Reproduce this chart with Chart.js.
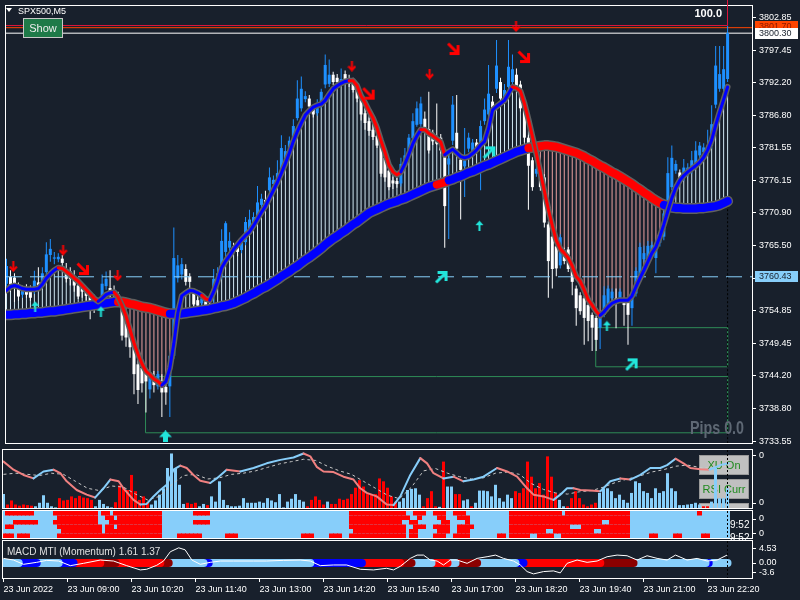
<!DOCTYPE html>
<html>
<head>
<meta charset="utf-8">
<title>SPX500,M5</title>
<script src="https://cdn.jsdelivr.net/npm/chart.js@4.4.1/dist/chart.umd.min.js"></script>
<style>
html,body{margin:0;padding:0;background:#18202c;overflow:hidden;}
#wrap{position:relative;width:800px;height:600px;background:#18202c;}
canvas{position:absolute;left:0;}
</style>
</head>
<body>
<div id="wrap">
<canvas id="cMain" width="800" height="449" style="top:0px"></canvas>
<canvas id="cHist" width="800" height="60" style="top:449px"></canvas>
<canvas id="cHeat" width="800" height="31" style="top:509px"></canvas>
<canvas id="cMacd" width="800" height="60" style="top:540px"></canvas>
</div>
<script>
// ---------------- DATA ----------------
const symbolTitle = 'SPX500,M5';
const xTickIdx = [0,16,32,48,64,80,96,112,128,144,160,176];
const xTickLabels = ['23 Jun 2022','23 Jun 09:00','23 Jun 10:20','23 Jun 11:40','23 Jun 13:00','23 Jun 14:20','23 Jun 15:40','23 Jun 17:00','23 Jun 18:20','23 Jun 19:40','23 Jun 21:00','23 Jun 22:20'];
const priceTickVals = [3802.85,3797.45,3792.20,3786.80,3781.55,3776.15,3770.90,3765.50,3760.15,3754.85,3749.45,3744.20,3738.80,3733.55];
const priceTickLabels = ['3802.85','3797.45','3792.20','3786.80','3781.55','3776.15','3770.90','3765.50','3760.15','3754.85','3749.45','3744.20','3738.80','3733.55'];

const opens = [
3759.3,3760.4,3760.3,3758.8,3757.5,3758.7,3758.4,3758.2,3759.5,3759.0,
3761.2,3764.0,3763.4,3763.3,3763.4,3761.7,3761.3,3760.4,3759.0,3758.9,
3758.1,3757.3,3756.5,3756.0,3757.2,3758.9,3758.6,3758.2,3757.6,3755.3,
3753.7,3752.1,3749.3,3746.1,3745.5,3744.8,3742.0,3744.0,3742.5,3743.5,
3742.4,3742.5,3747.5,3760.2,3760.8,3761.7,3760.5,3757.7,3756.6,3756.1,
3756.6,3756.0,3757.8,3759.5,3760.6,3764.5,3765.2,3765.4,3765.3,3764.8,
3766.1,3768.3,3768.9,3770.3,3772.2,3773.0,3774.6,3775.6,3775.7,3777.4,
3779.2,3780.0,3782.2,3786.4,3788.0,3789.5,3789.6,3788.0,3787.2,3788.5,
3791.9,3792.0,3793.5,3793.0,3792.3,3793.6,3792.8,3792.3,3791.5,3789.8,
3787.2,3785.9,3784.5,3783.5,3782.2,3779.9,3777.8,3776.2,3776.1,3775.7,
3778.4,3780.6,3783.1,3785.3,3785.4,3786.3,3784.6,3784.0,3783.0,3783.2,
3780.2,3778.8,3782.7,3784.0,3779.6,3778.5,3781.4,3780.8,3782.4,3782.2,
3785.9,3787.0,3789.1,3791.2,3792.3,3789.6,3791.5,3792.3,3793.5,3791.9,
3788.6,3783.2,3779.5,3777.3,3778.3,3776.7,3769.0,3767.0,3765.4,3762.3,
3764.7,3764.9,3761.7,3758.5,3757.4,3756.9,3755.8,3754.2,3753.7,3752.1,
3754.2,3755.3,3756.9,3756.9,3756.9,3756.6,3756.4,3755.3,3757.7,3760.1,
3763.3,3763.3,3764.0,3763.5,3766.0,3767.0,3772.5,3775.1,3777.8,3777.5,
3776.6,3777.3,3777.8,3779.0,3780.3,3780.8,3780.7,3781.9,3788.6,3791.2,
3791.2,3792.8];
const highs = [
3763.4,3761.5,3761.0,3759.5,3759.0,3759.2,3759.0,3761.4,3762.0,3762.0,
3766.1,3766.6,3764.5,3764.3,3764.0,3762.7,3762.0,3761.5,3759.8,3759.5,
3758.7,3758.0,3757.5,3756.8,3760.8,3761.3,3761.5,3759.0,3758.0,3756.5,
3754.5,3753.0,3750.0,3747.0,3746.5,3745.5,3744.5,3745.0,3745.0,3744.5,
3743.0,3748.0,3768.5,3764.0,3763.5,3762.5,3761.0,3758.5,3757.2,3757.5,
3757.0,3756.6,3761.7,3762.0,3768.2,3769.5,3767.7,3766.0,3766.0,3767.0,
3770.2,3771.4,3771.0,3775.3,3774.0,3774.5,3778.3,3777.0,3779.5,3783.6,
3782.0,3783.4,3786.2,3792.6,3793.2,3790.8,3790.2,3788.5,3789.5,3791.2,
3796.8,3796.0,3794.0,3793.6,3794.5,3794.2,3793.5,3793.0,3792.0,3790.5,
3788.0,3786.5,3785.5,3784.0,3782.8,3780.5,3778.3,3776.8,3776.6,3779.9,
3781.5,3783.8,3787.2,3789.1,3789.9,3787.5,3790.7,3784.5,3788.8,3783.8,
3780.8,3780.5,3790.0,3790.2,3780.5,3784.8,3784.0,3783.0,3783.0,3786.0,
3789.6,3795.1,3790.0,3799.2,3793.0,3792.0,3799.2,3796.8,3794.5,3792.5,
3789.0,3783.6,3780.0,3778.8,3778.8,3777.2,3769.5,3767.5,3766.0,3767.4,
3765.2,3765.3,3762.2,3759.0,3757.9,3757.3,3756.2,3754.6,3754.1,3754.6,
3758.9,3759.0,3758.5,3758.5,3758.5,3757.0,3756.8,3758.0,3762.0,3766.0,
3765.5,3766.3,3766.2,3765.5,3767.8,3771.4,3780.0,3781.9,3779.5,3778.0,
3779.7,3779.0,3781.0,3782.6,3782.5,3782.3,3784.5,3788.5,3798.2,3798.2,
3798.2,3801.5];
const lows = [
3758.5,3758.0,3756.3,3756.5,3757.0,3757.0,3756.5,3757.6,3758.5,3758.5,
3760.5,3762.9,3762.5,3762.8,3761.8,3759.5,3759.0,3758.0,3756.8,3757.0,
3755.0,3753.5,3754.5,3755.0,3756.8,3758.3,3757.2,3756.8,3755.8,3750.0,
3749.0,3747.2,3741.2,3739.6,3741.5,3738.2,3740.5,3741.5,3742.0,3737.5,
3739.5,3737.5,3747.0,3759.5,3760.0,3759.0,3758.5,3755.0,3755.0,3755.5,
3755.0,3754.8,3755.2,3758.8,3760.0,3763.5,3764.5,3764.5,3763.8,3764.3,
3765.6,3767.8,3768.2,3769.8,3771.5,3771.7,3774.0,3775.0,3775.2,3777.0,
3778.6,3779.5,3781.8,3786.0,3787.5,3789.0,3787.8,3786.5,3786.8,3788.0,
3791.3,3791.5,3791.8,3791.8,3792.0,3792.1,3791.5,3790.6,3789.0,3786.0,
3784.5,3783.5,3782.8,3781.5,3776.8,3776.0,3774.6,3774.8,3775.0,3775.2,
3778.0,3780.2,3782.7,3785.0,3785.0,3784.2,3780.6,3782.0,3782.0,3780.6,
3765.2,3766.6,3782.0,3781.0,3769.8,3773.5,3780.8,3780.2,3780.8,3774.6,
3785.3,3786.5,3787.0,3790.5,3789.0,3789.0,3791.0,3791.8,3791.0,3787.5,
3782.5,3771.4,3774.5,3776.8,3774.5,3768.5,3757.0,3758.5,3760.5,3761.8,
3762.5,3761.2,3757.4,3752.4,3754.2,3749.3,3749.9,3748.3,3748.3,3748.6,
3753.8,3754.8,3756.3,3752.0,3756.5,3752.4,3749.3,3752.4,3757.2,3759.6,
3762.8,3762.8,3763.5,3761.0,3765.4,3766.4,3772.0,3774.6,3777.3,3776.0,
3776.1,3776.8,3777.3,3778.5,3779.8,3780.3,3780.2,3781.4,3788.0,3790.7,
3790.7,3792.3];
const closes = [
3762.2,3759.0,3759.3,3757.2,3758.3,3757.5,3757.0,3759.8,3759.0,3761.0,
3764.1,3765.0,3763.6,3763.7,3762.7,3760.1,3760.1,3759.0,3757.2,3758.0,
3757.3,3756.3,3755.8,3755.7,3759.3,3760.1,3757.8,3757.4,3756.4,3750.8,
3750.5,3748.9,3744.5,3741.9,3743.0,3743.3,3744.0,3742.7,3744.5,3741.5,
3741.5,3747.5,3763.5,3762.3,3762.5,3759.6,3759.6,3755.9,3755.7,3756.9,
3755.6,3755.4,3760.1,3761.0,3766.3,3769.2,3766.3,3765.0,3764.5,3766.0,
3769.4,3769.8,3770.2,3772.6,3773.2,3772.2,3776.7,3776.3,3777.4,3781.5,
3781.0,3782.7,3785.1,3789.6,3791.2,3790.0,3788.3,3787.0,3788.6,3790.7,
3795.1,3793.5,3792.3,3792.3,3792.8,3792.6,3792.0,3791.0,3789.6,3787.0,
3785.6,3784.3,3783.3,3781.9,3777.3,3776.7,3775.1,3775.7,3775.6,3778.9,
3780.3,3783.2,3785.9,3788.0,3788.8,3784.8,3781.1,3782.6,3782.2,3781.1,
3772.0,3779.8,3788.6,3781.4,3777.9,3779.5,3783.2,3782.4,3781.5,3785.1,
3787.8,3790.4,3787.5,3795.0,3789.6,3791.0,3794.8,3794.4,3791.5,3788.0,
3783.2,3778.6,3775.1,3778.1,3775.1,3769.3,3763.0,3761.7,3761.8,3766.9,
3763.0,3761.7,3759.6,3755.3,3754.8,3753.7,3753.2,3752.1,3750.1,3754.2,
3757.4,3758.5,3758.0,3756.4,3758.0,3755.8,3754.2,3757.4,3761.4,3765.3,
3764.3,3765.5,3765.6,3765.0,3767.1,3770.8,3777.4,3779.9,3778.9,3776.5,
3778.3,3778.3,3779.5,3781.1,3781.9,3781.6,3781.9,3785.4,3795.0,3793.6,
3794.4,3800.3];

const fastMA = [
3758.2,3758.8,3759.0,3758.8,3758.5,3758.4,3758.4,3758.4,3758.5,3759.2,
3760.2,3760.9,3761.5,3761.9,3761.8,3761.3,3760.8,3760.2,3759.7,3759.0,
3758.3,3757.6,3756.9,3756.4,3756.9,3757.5,3757.8,3757.9,3757.1,3755.7,
3754.0,3751.8,3749.6,3747.8,3746.2,3745.0,3744.4,3743.7,3743.3,3742.7,
3743.3,3745.5,3749.5,3754.5,3757.3,3757.8,3758.2,3758.1,3757.8,3757.4,
3756.8,3756.6,3758.0,3759.8,3761.9,3763.0,3763.9,3764.9,3765.7,3766.5,
3767.2,3767.8,3768.8,3769.9,3771.0,3772.0,3773.3,3774.6,3775.9,3777.4,
3779.0,3780.7,3782.6,3784.2,3785.6,3786.9,3787.6,3788.2,3788.5,3788.7,
3789.3,3790.3,3791.2,3791.7,3792.1,3792.4,3792.5,3792.5,3791.7,3790.0,
3788.9,3787.6,3786.4,3784.8,3782.7,3780.8,3778.7,3777.6,3777.1,3777.6,
3778.9,3780.5,3782.2,3783.5,3784.5,3784.5,3783.9,3783.5,3783.0,3782.5,
3780.4,3780.9,3781.3,3780.7,3780.1,3779.9,3780.1,3780.6,3781.2,3782.0,
3782.6,3784.7,3787.7,3788.3,3788.8,3789.3,3790.4,3791.5,3791.3,3790.8,
3788.8,3786.2,3783.4,3780.6,3777.5,3774.5,3771.5,3768.8,3766.4,3765.0,
3764.3,3763.5,3762.2,3760.5,3759.7,3758.3,3756.7,3755.8,3754.8,3754.1,
3754.7,3755.5,3756.1,3756.4,3756.6,3756.6,3756.6,3757.3,3758.8,3760.2,
3761.5,3762.9,3764.3,3765.3,3767.0,3769.0,3771.2,3773.3,3775.0,3776.2,
3777.0,3777.6,3778.1,3778.6,3779.2,3780.0,3781.2,3782.8,3785.2,3787.4,
3789.4,3791.5];
const slowMA = [
3754.2,3754.2,3754.3,3754.3,3754.4,3754.4,3754.5,
3754.5,3754.6,3754.6,3754.7,3754.8,3754.8,3754.9,
3755.0,3755.1,3755.2,3755.3,3755.4,3755.5,3755.6,
3755.7,3755.8,3755.9,3756.0,3756.1,3756.2,3756.3,
3756.3,3756.3,3756.2,3756.0,3755.9,3755.7,3755.5,
3755.4,3755.3,3755.1,3754.9,3754.7,3754.5,3754.4,
3754.4,3754.4,3754.4,3754.5,3754.6,3754.7,3754.8,
3754.9,3755.0,3755.1,3755.3,3755.4,3755.6,3755.7,
3755.9,3756.1,3756.4,3756.7,3757.0,3757.4,3757.7,
3758.1,3758.5,3758.8,3759.2,3759.6,3760.0,3760.5,
3760.9,3761.3,3761.8,3762.2,3762.7,3763.2,3763.6,
3764.1,3764.6,3765.1,3765.7,3766.2,3766.7,3767.1,
3767.6,3768.0,3768.5,3769.0,3769.4,3769.9,3770.4,
3770.9,3771.2,3771.5,3771.8,3772.1,3772.4,3772.6,
3772.8,3773.1,3773.3,3773.6,3773.9,3774.2,3774.5,
3774.8,3775.1,3775.3,3775.5,3775.7,3775.9,3776.2,
3776.4,3776.7,3776.9,3777.2,3777.5,3777.7,3778.0,
3778.3,3778.6,3778.8,3779.1,3779.4,3779.7,3780.0,
3780.3,3780.6,3780.9,3781.1,3781.3,3781.5,3781.6,
3781.7,3781.8,3781.9,3781.9,3781.8,3781.7,3781.5,
3781.3,3781.1,3780.9,3780.7,3780.4,3780.1,3779.7,
3779.4,3779.0,3778.6,3778.3,3777.9,3777.5,3777.2,
3776.8,3776.4,3776.0,3775.6,3775.1,3774.7,3774.2,
3773.8,3773.3,3772.9,3772.5,3772.2,3772.0,3771.8,
3771.7,3771.7,3771.6,3771.6,3771.6,3771.6,3771.7,
3771.7,3771.8,3771.9,3772.0,3772.2,3772.5,3772.8];
const fastRedRuns = [[13,23],[27,39],[49,51],[86,99],[104,110],[127,149]];
const slowRedRuns = [[28,41],[108,111],[131,165]];

const redDownArrows = [[1.7,3762.1],[14.2,3764.8],[27.9,3760.6],[86.7,3794.9],[106.2,3793.6],[127.9,3801.4]];
const redDiagArrows = [[19.2,3761.7],[90.9,3790.4],[112.2,3797.7],[129.9,3796.4]];
const cyanUpArrows = [[7.2,3755.6],[23.7,3754.8],[118.7,3768.8],[150.7,3752.4]];
const cyanBigUpArrows = [[39.9,3734.3]];
const cyanDiagArrows = [[109.2,3760.4],[121.2,3780.8],[156.9,3746.1]];

const box1 = [34.9, 181, 3744.1, 3734.9];
const box2 = [147.9, 181, 3752.1, 3745.7];
const dashLevel = 3760.43;
const bidLevel = 3800.30;
const askLevel = 3801.20;
const crimsonLevel = 3801.70;

const histVals = [
24,-6,-13,-6,-4,-6,-5,-4,3,9,
22,9,3,1,-17,-13,-14,-20,-17,-21,
-18,-17,-14,3,14,7,3,1,-10,-39,
-35,-31,-57,-29,-14,-20,-10,6,13,23,
34,69,94,68,40,7,-9,-7,-9,3,
7,-5,20,11,46,14,5,3,3,4,
17,9,9,9,11,9,17,13,10,24,
1,11,16,24,14,11,-3,-14,-20,-14,
-6,11,-7,-7,-16,-14,-16,-24,-35,-48,
-37,-24,-24,-24,-51,-46,-35,-20,-11,11,
17,31,33,34,23,-3,-17,-29,-3,2,
-80,37,37,-24,-24,13,15,-3,9,30,
30,29,20,40,17,11,23,17,-29,-26,
-34,-80,-54,-34,-43,-23,-89,-54,-26,14,
3,-3,-17,-29,-17,-6,-3,-6,-9,26,
34,34,29,17,23,14,9,26,46,43,
29,26,17,34,26,29,60,34,29,5,
5,6,7,9,6,-3,-3,11,69,17,
17,34];
const rsiLine = [[0,80],[2.5,66],[5,57],[7.5,51],[10,63],[12.5,66],[14.2,60],[15.8,46],[18.3,31],[20.8,23],[22.9,18],[25,34],[26.7,49],[28.8,46],[30,34],[32.5,14],[34.2,6],[35.8,7],[37.5,20],[39.2,31],[40.8,40],[42.5,66],[44.2,73],[45.8,69],[47.5,57],[49.2,47],[51.7,43],[53.3,51],[55.8,66],[59.2,63],[62.5,69],[65.8,77],[69.2,83],[72.5,87],[75,94],[76.7,89],[78.3,71],[80,63],[82.5,62],[85,54],[87.5,49],[89.2,34],[90.8,26],[93.3,20],[95.8,6],[97.5,5],[99.2,20],[101.7,57],[104.2,86],[105.9,77],[107.5,60],[110,51],[112.5,54],[115,46],[117.5,49],[120,54],[123.4,69],[125.9,63],[128.4,54],[130.9,34],[132.5,23],[135,20],[137.5,14],[139.2,23],[140.9,34],[142.5,34],[144.2,31],[146.7,30],[149.2,29],[151.7,46],[154.2,51],[156.7,49],[159.2,57],[161.7,69],[164.2,69],[165.9,74],[168,85],[170,77],[171.7,69],[174.2,67],[176.5,66],[179.2,74],[181.3,77]];
const rsiSignal = [[0,58],[3,60],[6,58],[9,56],[12,60],[15,58],[18,46],[21,34],[24,30],[27,38],[30,36],[33,24],[36,14],[39,20],[42,40],[45,56],[48,58],[51,50],[54,52],[57,58],[60,60],[63,64],[66,70],[69,76],[72,80],[75,84],[78,82],[81,72],[84,64],[87,58],[90,46],[93,34],[96,22],[99,16],[102,36],[105,64],[108,68],[111,60],[114,54],[117,50],[120,52],[123,60],[126,62],[129,58],[132,42],[135,32],[138,26],[141,24],[144,28],[147,30],[150,36],[153,44],[156,50],[159,55],[162,62],[165,66],[168,72],[171,74],[174,70],[177,70],[181,72]];
const histTicks = [89.7, 8.6];
const histTickLabels = ['0','0'];

const heatRows = [
 [[1,8],[13,24],[25,27],[28,40],[48,52],[87,101],[103,106],[108,111],[113,116],[127,140],[141,157],[174,175]],
 [[14,24],[26,28],[29,40],[87,102],[104,105],[109,111],[114,117],[127,157]],
 [[3,9],[13,24],[27,40],[48,52],[87,100],[102,104],[110,112],[116,117],[127,150],[152,157]],
 [[1,3],[14,25],[26,28],[29,40],[87,101],[103,106],[108,112],[114,118],[127,142],[145,157]],
 [[15,25],[26,40],[88,101],[102,104],[109,112],[114,117],[127,136],[138,148],[150,157]],
 [[0,3],[4,7],[14,40],[44,50],[56,59],[75,78],[82,85],[87,101],[102,104],[108,111],[113,117],[124,126],[127,132],[134,138],[140,157],[162,164],[168,170],[175,177]]
];
const heatTicks = [4.22, 0.89];
const heatTickLabels = ['0','0'];

const macdLine = [[0,1.4],[2.5,0.9],[5,-0.4],[8.3,0.2],[10.8,0.8],[13.8,0.6],[16.7,-0.8],[20,-0.1],[24.2,0.9],[27.5,0.6],[30.8,-0.8],[34.2,-2.1],[35.8,-1.9],[38.3,-0.7],[40,0.6],[41.7,3.4],[43.8,4.6],[45.4,4.0],[47.1,0.9],[49.2,-0.4],[51.7,0.2],[54.2,0.6],[57.5,0.6],[62.5,0.6],[65.8,0.6],[70,0.8],[74.2,0.9],[76.7,0.6],[79.2,-0.8],[82.5,-0.6],[85.8,-0.6],[89.2,-1.9],[92.5,-2.1],[95.8,-1.6],[97.5,-2.1],[99.2,-1.0],[101.7,1.4],[103.4,2.4],[105,2.4],[106.7,0.9],[108.4,0.6],[110,-0.6],[111.7,0.9],[113.4,0.9],[115.9,-0.1],[118.4,1.4],[120.9,1.9],[123,2.4],[125,1.4],[127.5,0.6],[129.2,-0.6],[130.9,-2.6],[132.5,-3.3],[135,-2.6],[137.5,-2.4],[139.2,-3.0],[140.9,-0.1],[143.4,0.9],[145.9,0.2],[148.4,0.6],[150.9,1.9],[153.4,2.4],[155.9,2.2],[158.4,0.9],[160.9,2.2],[163.4,1.4],[165.9,0.9],[168,2.4],[170.9,0.9],[173.4,1.4],[175.9,0.6],[178.4,0.9],[180.9,2.4]];
const macdBand = [[0,3.8,'lb'],[3.8,8.3,'b'],[8.3,13.8,'lb'],[13.8,17.5,'b'],[17.5,24.2,'r'],[24.2,28,'dr'],[28,39.2,'r'],[39.2,41.3,'dr'],[41.3,50,'lb'],[50,51.3,'b'],[51.3,76.7,'lb'],[76.7,89.6,'b'],[89.6,99.2,'r'],[99.2,102,'dr'],[102,107,'lb'],[107,111,'r'],[111,113,'lb'],[113,118.4,'dr'],[118.4,128,'lb'],[128,130,'b'],[130,149.2,'r'],[149.2,157.5,'dr'],[157.5,175.5,'lb'],[175.5,176.3,'b'],[176.3,181,'lb']];
const macdTicks = [4.53, 0, -3.0];
const macdTickLabels = ['4.53','0.00','-3.6'];
const macdTitle = 'MACD MTI (Momentum) 1.61 1.37';

// ---------------- STYLE ----------------
const FF = "'Liberation Sans', Arial, sans-serif";
const WHITE='#ffffff', BULL='#1e90ff', BEAR='#ffffff', MA_BLUE='#0000ff', MA_RED='#ff0000', OUTLINE='#606060';
const CLOUD_UP='#cfe6f2', CLOUD_DN='#eda0a0', LB='#87cefa', RED='#ff0000', DRED='#8b0000', CYAN='#22e6dc', GREEN_BOX='#2e8b57', SALMON='#f08080';
const bandColors = {lb:LB, b:'#0000ff', r:RED, dr:DRED};
const XMIN=-0.125, XMAX=187.125;
const N = closes.length;
const idx = Array.from({length:N},(_,i)=>i);
const inRuns=(runs,i)=>runs.some(r=>i>=r[0]&&i<r[1]);
const pts = arr => arr.map(p=>({x:p[0],y:p[1]}));

function lineDS(data,color,width,order,extra){
  return Object.assign({type:'line',data,borderColor:color,borderWidth:width,pointRadius:0,pointHoverRadius:0,tension:0,fill:false,order,borderJoinStyle:'round',borderCapStyle:'round'},extra||{});
}
function barDS(data,colors,thick,order,extra){
  return Object.assign({type:'bar',data,backgroundColor:colors,barThickness:thick,grouped:false,inflateAmount:0,borderWidth:0,order},extra||{});
}
function mkArrow(kind){
  const c=document.createElement('canvas'); const g=c.getContext('2d');
  if(kind==='rdown'){c.width=9;c.height=11;g.strokeStyle=RED;g.lineWidth=2;g.beginPath();g.moveTo(4.5,0);g.lineTo(4.5,9);g.stroke();g.beginPath();g.moveTo(1,5.5);g.lineTo(4.5,9.5);g.lineTo(8,5.5);g.stroke();}
  else if(kind==='rdiag'){c.width=14;c.height=14;g.strokeStyle=RED;g.lineWidth=3;g.beginPath();g.moveTo(1.5,1.5);g.lineTo(11,11);g.stroke();g.beginPath();g.moveTo(11.5,3);g.lineTo(11.5,11.5);g.lineTo(3,11.5);g.stroke();}
  else if(kind==='cup'){c.width=9;c.height=11;g.fillStyle=CYAN;g.beginPath();g.moveTo(0.5,5);g.lineTo(4.5,0.5);g.lineTo(8.5,5);g.closePath();g.fill();g.fillRect(3.5,4,2,7);}
  else if(kind==='cbig'){c.width=13;c.height=12;g.fillStyle=CYAN;g.beginPath();g.moveTo(0,6.5);g.lineTo(6.5,0);g.lineTo(13,6.5);g.closePath();g.fill();g.fillRect(4,6,5,6);}
  else if(kind==='cdiag'){c.width=14;c.height=14;g.strokeStyle=CYAN;g.lineWidth=3;g.beginPath();g.moveTo(1.5,12.5);g.lineTo(11,3);g.stroke();g.beginPath();g.moveTo(3,2.5);g.lineTo(11.5,2.5);g.lineTo(11.5,11);g.stroke();}
  return c;
}
function makeOpts(cfg){
  return {
    responsive:false, animation:false, events:[],
    layout:{padding:{left:3,right:0,top:cfg.padTop,bottom:cfg.padBottom}},
    plugins:{legend:{display:false},tooltip:{enabled:false}},
    scales:{
      x:{type:'linear',min:XMIN,max:XMAX,offset:false,display:!!cfg.showX,
        afterBuildTicks:s=>{s.ticks=xTickIdx.map(v=>({value:v}));},
        afterFit:s=>{ if(cfg.showX){s.height=cfg.xHeight;} s.paddingLeft=0; s.paddingRight=0; },
        grid:{display:true,drawOnChartArea:false,drawTicks:true,tickLength:4,color:WHITE,offset:false},
        border:{display:false},
        ticks:{color:WHITE,font:{family:FF,size:9},align:'start',maxRotation:0,minRotation:0,autoSkip:false,padding:2,callback:(v,k)=>xTickLabels[k]}
      },
      y:{type:'linear',position:'right',min:cfg.yMin,max:cfg.yMax,
        afterBuildTicks:s=>{s.ticks=cfg.yTicks.map(v=>({value:v}));},
        afterFit:s=>{s.width=48;s.paddingTop=0;s.paddingBottom=0;},
        grid:{display:true,drawOnChartArea:false,drawTicks:true,tickLength:4,color:WHITE},
        border:{display:false},
        ticks:{color:WHITE,font:{family:FF,size:9},padding:3,autoSkip:false,callback:(v,k)=>cfg.yLabels[k]}
      }
    }
  };
}
function drawFrame(chart){
  const {ctx,chartArea:a}=chart;
  ctx.save(); ctx.strokeStyle=WHITE; ctx.lineWidth=1;
  ctx.strokeRect(Math.round(a.left)-0.5,Math.round(a.top)-0.5,Math.round(a.right-a.left)+1,Math.round(a.bottom-a.top)+1);
  ctx.restore();
}
function drawDotted(chart){
  const {ctx,chartArea:a,scales:{x}}=chart;
  const px=Math.round(x.getPixelForValue(N-1)-0.5)+0.5;
  ctx.save(); ctx.strokeStyle='#000000'; ctx.lineWidth=1; ctx.setLineDash([2,2]);
  ctx.beginPath(); ctx.moveTo(px,a.top); ctx.lineTo(px,a.bottom); ctx.stroke(); ctx.restore();
}

// ---------------- MAIN CHART ----------------
const mainOverlay = {
  id:'mainOverlay',
  afterDraw(chart){
    const {ctx,chartArea:a,scales:{x,y}}=chart;
    drawFrame(chart);
    ctx.save();
    // crimson level + box edge
    const yc=Math.round(y.getPixelForValue(crimsonLevel))+0.5;
    const xe=Math.round(x.getPixelForValue(N-1)-0.5)+0.5;
    ctx.strokeStyle='#dc143c'; ctx.lineWidth=1;
    ctx.beginPath(); ctx.moveTo(a.left,yc); ctx.lineTo(xe,yc); ctx.moveTo(xe,0); ctx.lineTo(xe,yc); ctx.stroke();
    // header
    ctx.fillStyle=WHITE; ctx.beginPath(); ctx.moveTo(6,8); ctx.lineTo(12,8); ctx.lineTo(9,12); ctx.closePath(); ctx.fill();
    ctx.font='9px '+FF; ctx.textAlign='left'; ctx.textBaseline='alphabetic'; ctx.fillText(symbolTitle,18,14);
    // Show button
    ctx.fillStyle='#1e7a48'; ctx.fillRect(23,18,40,20);
    ctx.strokeStyle='#c8c8c8'; ctx.strokeRect(23.5,18.5,39,19);
    ctx.fillStyle='#eeeeee'; ctx.font='11px '+FF; ctx.textAlign='center'; ctx.textBaseline='middle'; ctx.fillText('Show',43,28.5);
    // 100.0
    ctx.fillStyle=WHITE; ctx.font='bold 11px '+FF; ctx.textAlign='right'; ctx.textBaseline='alphabetic'; ctx.fillText('100.0',722,17);
    // Pips
    ctx.fillStyle='#5e6874'; ctx.font='bold 18px '+FF; ctx.textAlign='left'; ctx.fillText('Pips 0.0',690,434,54);
    // price tags
    const tag=(val,off,bg,fg,text)=>{const c=Math.round(y.getPixelForValue(val))+off; ctx.fillStyle=bg; ctx.fillRect(755,c-5,43,11); ctx.fillStyle=fg; ctx.font='9px '+FF; ctx.textAlign='left'; ctx.textBaseline='middle'; ctx.fillText(text,759,c+0.5);};
    tag(crimsonLevel,1,'#ff4500','#8b1a00','3801.70');
    tag(bidLevel,0,'#ffffff','#18202c','3800.30');
    tag(dashLevel,-1,'#87cefa','#18202c','3760.43');
    ctx.restore();
  }
};
const boxPts = b => [{x:b[0],y:b[2]},{x:b[1],y:b[2]},{x:b[1],y:b[3]},{x:b[0],y:b[3]},{x:b[0],y:b[2]}];
const arrowDS = (arr,img)=>({type:'line',showLine:false,data:pts(arr),pointStyle:img,pointRadius:5,pointHoverRadius:5,order:10});
const isBull = i => closes[i]>=opens[i];
const fastPts = idx.map(i=>({x:i,y:fastMA[i]}));
const slowPts = idx.map(i=>({x:i,y:slowMA[i]}));

new Chart(document.getElementById('cMain'),{
  type:'bar',
  data:{datasets:[
    lineDS([{x:XMIN,y:bidLevel},{x:XMAX,y:bidLevel}],'#ffffff',1,100,{borderCapStyle:'butt'}),
    lineDS([{x:XMIN,y:askLevel},{x:XMAX,y:askLevel}],'#ff4500',1,100,{borderCapStyle:'butt'}),
    lineDS(boxPts(box1),GREEN_BOX,1,95,{borderJoinStyle:'miter',borderCapStyle:'butt'}),
    lineDS(boxPts(box2),GREEN_BOX,1,95,{borderJoinStyle:'miter',borderCapStyle:'butt'}),
    barDS(idx.map(i=>({x:i,y:[slowMA[i],fastMA[i]]})),idx.map(i=>fastMA[i]>=slowMA[i]?CLOUD_UP:CLOUD_DN),1,90),
    barDS(idx.map(i=>({x:i,y:[lows[i],highs[i]]})),idx.map(i=>isBull(i)?BULL:BEAR),1,80),
    barDS(idx.map(i=>({x:i,y:[opens[i],closes[i]]})),idx.map(i=>isBull(i)?BULL:BEAR),3,70,{minBarLength:1}),
    lineDS([{x:XMIN,y:dashLevel},{x:XMAX,y:dashLevel}],LB,1,65,{borderDash:[16,8],borderCapStyle:'butt'}),
    lineDS([{x:N-1,y:slowMA[N-1]},{x:N-1,y:3733.0}],'#000000',1,64,{borderDash:[2,2],borderCapStyle:'butt'}),
    lineDS(slowPts,OUTLINE,11,60),
    lineDS(slowPts,MA_BLUE,8,55,{segment:{borderColor:c=>inRuns(slowRedRuns,c.p0DataIndex)?MA_RED:MA_BLUE}}),
    lineDS(fastPts,OUTLINE,6,50),
    lineDS(fastPts,MA_BLUE,3,45,{segment:{borderColor:c=>inRuns(fastRedRuns,c.p0DataIndex)?MA_RED:MA_BLUE}}),
    arrowDS(redDownArrows,mkArrow('rdown')),
    arrowDS(redDiagArrows,mkArrow('rdiag')),
    arrowDS(cyanUpArrows,mkArrow('cup')),
    arrowDS(cyanBigUpArrows,mkArrow('cbig')),
    arrowDS(cyanDiagArrows,mkArrow('cdiag'))
  ]},
  options:makeOpts({padTop:3,padBottom:2,yMin:3733.228,yMax:3804.747,yTicks:priceTickVals,yLabels:priceTickLabels}),
  plugins:[mainOverlay]
});

// ---------------- HISTOGRAM PANEL ----------------
const histButtons = {
  id:'histButtons',
  beforeDatasetsDraw(chart){
    const {ctx,chartArea:a}=chart;
    ctx.save(); ctx.beginPath(); ctx.rect(a.left,a.top,a.right-a.left,a.bottom-a.top); ctx.clip();
    const btn=(yy,text)=>{ctx.fillStyle='#c0c0c0'; ctx.fillRect(699,yy,50,20); ctx.strokeStyle='#9a9a9a'; ctx.strokeRect(699.5,yy+0.5,49,19);
      if(text){ctx.fillStyle='#1f8a1f'; ctx.font='11px '+FF; ctx.textAlign='center'; ctx.textBaseline='middle'; ctx.fillText(text,724,yy+10.5,44);}};
    btn(6,'XU On'); btn(30,'RSI Curr'); btn(54,'');
    ctx.restore();
  },
  afterDraw(chart){ drawDotted(chart); drawFrame(chart); }
};
new Chart(document.getElementById('cHist'),{
  type:'bar',
  data:{datasets:[
    barDS(idx.map(i=>({x:i,y:Math.abs(histVals[i])})),idx.map(i=>histVals[i]>=0?LB:RED),3,40),
    lineDS(pts(rsiSignal),'#c8c8c8',1,30,{borderDash:[3,3],borderCapStyle:'butt'}),
    lineDS(pts(rsiLine),LB,2,20,{segment:{borderColor:c=>c.p1.y>c.p0.y?SALMON:LB}})
  ]},
  options:makeOpts({padTop:1,padBottom:1,yMin:0,yMax:100,yTicks:histTicks,yLabels:histTickLabels}),
  plugins:[histButtons]
});

// ---------------- HEATMAP PANEL ----------------
const heatDatasets = [barDS(idx.map(i=>({x:i,y:[0,6]})),LB,5,50)];
heatRows.forEach((runs,r)=>{
  const cells=[];
  runs.forEach(([s,e])=>{for(let i=s;i<e;i++){cells.push({x:i,y:[5-r,6-r]});}});
  heatDatasets.push(barDS(cells,RED,5,40));
});
const heatOverlay = {
  id:'heatOverlay',
  afterDraw(chart){
    const {ctx}=chart;
    ctx.save(); ctx.fillStyle=WHITE; ctx.font='10px '+FF; ctx.textAlign='left'; ctx.textBaseline='alphabetic';
    ctx.fillText('9:52',730,19); ctx.fillText('9:52',730,32);
    ctx.restore();
    drawDotted(chart); drawFrame(chart);
  }
};
new Chart(document.getElementById('cHeat'),{
  type:'bar',
  data:{datasets:heatDatasets},
  options:makeOpts({padTop:2,padBottom:2,yMin:0,yMax:6,yTicks:heatTicks,yLabels:heatTickLabels}),
  plugins:[heatOverlay]
});

// ---------------- MACD PANEL ----------------
const macdOverlay = {
  id:'macdOverlay',
  afterDraw(chart){
    const {ctx}=chart;
    ctx.save(); ctx.fillStyle='#e0e0e0'; ctx.font='10px '+FF; ctx.textAlign='left'; ctx.textBaseline='alphabetic';
    ctx.fillText(macdTitle,7,15); ctx.restore();
    drawDotted(chart); drawFrame(chart);
  }
};
const macdDatasets = macdBand.map(([s,e,c])=>lineDS([{x:s,y:0},{x:e,y:0}],bandColors[c],8,30));
macdDatasets.push(lineDS(pts(macdLine),'#ffffff',1,10));
new Chart(document.getElementById('cMacd'),{
  type:'bar',
  data:{datasets:macdDatasets},
  options:makeOpts({padTop:1,padBottom:0,showX:true,xHeight:22,yMin:-4.545,yMax:6.667,yTicks:macdTicks,yLabels:macdTickLabels}),
  plugins:[macdOverlay]
});
</script>
</body>
</html>
